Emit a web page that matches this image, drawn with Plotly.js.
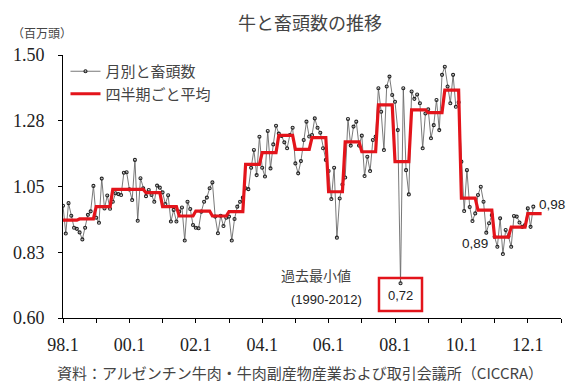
<!DOCTYPE html>
<html>
<head>
<meta charset="utf-8">
<script src="https://cdn.plot.ly/plotly-3.0.1.min.js"></script>
<style>html,body{margin:0;padding:0;background:#fff;}#chart{width:572px;height:390px;}</style>
</head>
<body>
<div id="chart"></div>
<script>
// Monthly cattle slaughter (million head), Jan 1998 .. Mar 2012
const monthlyValues = [
  0.984,0.889,0.993,0.950,0.909,0.905,0.893,0.869,0.909,0.953,0.965,1.052,
  0.943,0.926,1.077,0.975,1.019,0.974,0.998,1.027,1.024,1.021,1.097,1.099,
  1.040,1.004,1.141,0.933,1.078,1.044,1.017,1.038,1.021,0.998,1.053,1.046,
  1.030,0.990,1.020,0.930,0.970,0.930,0.964,0.978,0.865,0.998,0.973,0.918,
  0.909,0.907,0.964,0.998,1.012,1.044,1.064,0.947,0.890,0.950,0.915,0.943,
  0.947,0.865,0.939,0.981,0.998,1.012,1.044,1.041,1.114,1.175,1.089,1.220,
  1.114,1.084,1.240,1.112,1.194,1.258,1.231,1.223,1.201,1.181,1.226,1.251,
  1.129,1.095,1.137,1.209,1.272,1.221,1.226,1.283,1.251,1.234,1.181,1.141,
  1.103,1.007,1.114,0.875,1.009,1.057,1.081,1.281,1.190,1.255,1.272,1.190,
  1.224,1.086,1.152,1.103,1.209,1.221,1.386,1.306,1.175,1.392,1.426,1.363,
  1.340,1.243,0.719,1.386,1.106,1.023,1.375,1.350,1.365,1.335,1.181,1.300,
  1.314,1.215,1.260,1.346,1.243,1.432,1.460,1.392,1.335,1.432,1.323,1.338,
  1.135,0.966,1.106,0.980,0.932,0.958,1.021,1.049,0.998,0.892,0.924,0.952,
  0.878,0.844,0.941,0.819,0.901,0.879,0.844,0.949,0.947,0.927,0.912,0.918,
  0.975,0.912,0.981
];
// Period averages (each covers 6 months), from Jan 1998
const periodAverages = [
  0.935,0.939,0.981,1.040,1.040,1.029,0.981,0.949,0.966,0.949,
  0.964,1.126,1.166,1.225,1.177,1.217,1.032,1.203,1.169,1.329,
  1.135,1.312,1.303,1.380,1.010,0.969,0.877,0.911,0.957
];
const monthsPerPeriod = 6;
const xTickMonths = [0,12,24,36,48,60,72,84,96,108,120,132,144,156,168,180];
const xTickLabels = ['98.1','','00.1','','02.1','','04.1','','06.1','','08.1','','10.1','','12.1',''];
const yTickValues = [0.60,0.825,1.05,1.275,1.50];
const yTickLabels = ['0.60','0.83','1.05','1.28','1.50'];
const seriesNames = ['月別と畜頭数','四半期ごと平均'];

const monthIndex = monthlyValues.map((_, i) => i);
const avgX = [], avgY = [];
periodAverages.forEach((v, k) => {
  avgX.push(k * monthsPerPeriod, k * monthsPerPeriod + monthsPerPeriod - 1);
  avgY.push(v, v);
});

const jp = 'Noto Sans CJK JP, Noto Sans, sans-serif';
const serif = 'Liberation Serif, DejaVu Serif, serif';
const sans = 'Liberation Sans, Arial, sans-serif';

const traces = [
  {
    x: monthIndex, y: monthlyValues, name: seriesNames[0],
    type: 'scatter', mode: 'lines+markers',
    line: {color: '#6a6a6a', width: 0.9},
    marker: {symbol: 'circle-open', size: 3, color: '#222', line: {width: 1.1, color: '#222'}}
  },
  {
    x: avgX, y: avgY, name: seriesNames[1],
    type: 'scatter', mode: 'lines',
    line: {color: '#e3141b', width: 3.2}
  }
];

const layout = {
  width: 572, height: 390,
  margin: {l: 63, r: 11, t: 55, b: 72},
  paper_bgcolor: '#fff', plot_bgcolor: '#fff',
  title: {text: '牛と畜頭数の推移', x: 0.542, xref: 'container', xanchor: 'center',
          y: 0.94, yref: 'container', yanchor: 'middle',
          font: {family: jp, size: 18, color: '#444'}},
  showlegend: true,
  legend: {x: 0.005, y: 1.0, xanchor: 'left', yanchor: 'top', bgcolor: 'rgba(0,0,0,0)',
           font: {family: jp, size: 15, color: '#444'}, tracegroupgap: 0},
  xaxis: {
    range: [0, 180], tickmode: 'array', tickvals: xTickMonths, ticktext: xTickLabels,
    ticks: 'outside', ticklen: 4, tickcolor: '#000', tickwidth: 1,
    showline: true, linecolor: '#000', linewidth: 1, showgrid: false, zeroline: false,
    tickfont: {family: serif, size: 18, color: '#222'}, ticklabelstandoff: 6
  },
  yaxis: {
    range: [0.6, 1.5], tickmode: 'array', tickvals: yTickValues, ticktext: yTickLabels,
    ticks: 'outside', ticklen: 4, tickcolor: '#000', tickwidth: 1,
    showline: true, linecolor: '#000', linewidth: 1, showgrid: false, zeroline: false,
    tickfont: {family: serif, size: 18, color: '#222'}, ticklabelstandoff: 10
  },
  shapes: [
    {type: 'rect', xref: 'paper', yref: 'paper', x0: 0.6345, x1: 0.7209, y0: 0.0266, y1: 0.152,
     line: {color: '#e3141b', width: 2.5}, fillcolor: 'rgba(0,0,0,0)'}
  ],
  annotations: [
    {text: '（百万頭）', xref: 'paper', yref: 'paper', x: -0.106, y: 1.084, xanchor: 'left', yanchor: 'middle',
     showarrow: false, font: {family: jp, size: 12, color: '#444'}},
    {text: '過去最小値', xref: 'paper', yref: 'paper', x: 0.508, y: 0.162, xanchor: 'center', yanchor: 'middle',
     showarrow: false, font: {family: jp, size: 14, color: '#444'}},
    {text: '(1990-2012)', xref: 'paper', yref: 'paper', x: 0.530, y: 0.072, xanchor: 'center', yanchor: 'middle',
     showarrow: false, font: {family: sans, size: 13, color: '#222'}},
    {text: '0,72', xref: 'paper', yref: 'paper', x: 0.677, y: 0.084, xanchor: 'center', yanchor: 'middle',
     showarrow: false, font: {family: sans, size: 13, color: '#222'}},
    {text: '0,89', xref: 'paper', yref: 'paper', x: 0.827, y: 0.285, xanchor: 'center', yanchor: 'middle',
     showarrow: false, font: {family: sans, size: 13.5, color: '#222'}},
    {text: '0,98', xref: 'paper', yref: 'paper', x: 0.982, y: 0.433, xanchor: 'center', yanchor: 'middle',
     showarrow: false, font: {family: sans, size: 13.5, color: '#222'}},
    {text: '資料：アルゼンチン牛肉・牛肉副産物産業および取引会議所（CICCRA）', xref: 'paper', yref: 'paper',
     x: 0.476, y: -0.209, xanchor: 'center', yanchor: 'middle',
     showarrow: false, font: {family: jp, size: 15, color: '#444'}}
  ]
};

Plotly.newPlot('chart', traces, layout, {displayModeBar: false, responsive: false});
</script>
</body>
</html>
